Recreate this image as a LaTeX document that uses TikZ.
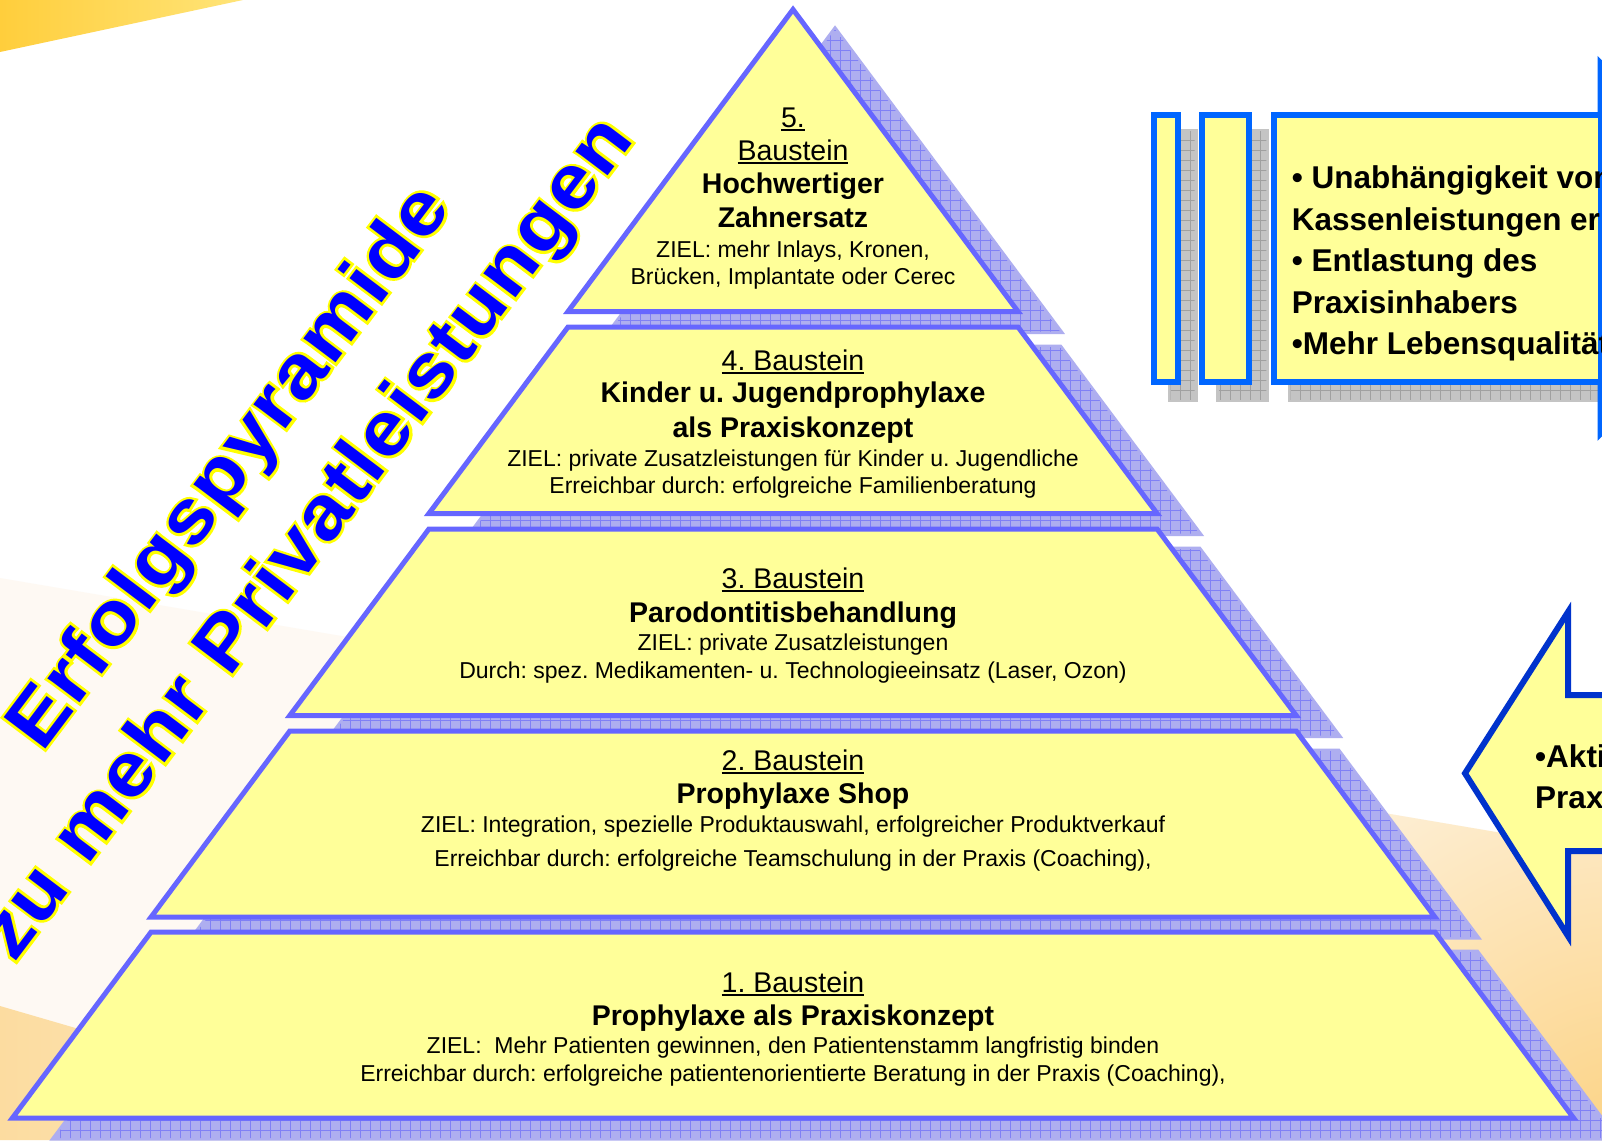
\documentclass[tikz,border=0pt]{standalone}
\usepackage{fontspec}
\usepackage{graphicx}
\setmainfont{Liberation Sans}
\usetikzlibrary{patterns.meta,calc}
\definecolor{tierfill}{RGB}{255,255,153}
\definecolor{tierline}{RGB}{102,102,255}
\definecolor{shadowfill}{RGB}{174,174,240}
\definecolor{shadowgrid}{RGB}{128,128,245}
\definecolor{greyfill}{RGB}{196,196,196}
\definecolor{greygrid}{RGB}{160,160,160}
\definecolor{arrowblue}{RGB}{0,102,255}
\definecolor{darkblue}{RGB}{0,51,204}
\definecolor{titleblue}{RGB}{0,0,255}
\definecolor{cornerA}{RGB}{255,206,60}
\definecolor{cornerB}{RGB}{255,228,120}
\definecolor{cream}{RGB}{254,249,243}
\definecolor{peach}{RGB}{252,210,130}
\definecolor{wedgeA}{RGB}{252,220,160}
\definecolor{wedgeB}{RGB}{253,234,200}
\newcommand\ulbox[1]{\setbox0\hbox{#1}\rlap{\rule[-4pt]{\wd0}{2pt}}\box0}
\newcommand\tierbig{\fontsize{28.5}{34}\selectfont}
\newcommand\tiersmall{\fontsize{23}{27}\selectfont}
\newcommand\boxfnt{\fontsize{31.5}{41}\selectfont\bfseries}
\newcommand\titlefnt{\fontsize{76}{90}\selectfont\bfseries}
% letter spreading for the title
\def\spreadit#1{\spreadB#1\relax}
\def\spreadB#1{#1\spreadC}
\def\spreadC#1{\ifx#1\relax\else\kern1.5pt#1\expandafter\spreadC\fi}
% title text: a stroked (yellow outline) copy below, a plain blue copy on top
\newcommand\titleoutline[1]{\special{pdf:code 2 Tr 1 1 0 RG 5 w}\scalebox{1.1}[1]{\spreadit{#1}}}
\newcommand\titleplain[1]{\scalebox{1.1}[1]{\spreadit{#1}}}
\begin{document}
\frenchspacing
\begin{tikzpicture}[x=1pt,y=-1pt,
  tierstyle/.style={draw=tierline,line width=5pt,fill=tierfill,line join=miter},
  shadowstyle/.style={fill=shadowfill,draw=shadowfill,line width=5pt,line join=miter,
    postaction={pattern={Hatch[angle=0,distance=10pt,line width=0.6pt]},pattern color=shadowgrid}},
  greyshadow/.style={fill=greyfill,draw=greyfill,line width=6pt,
    postaction={pattern={Hatch[angle=0,distance=10pt,line width=0.6pt]},pattern color=greygrid}},
  stripebox/.style={draw=arrowblue,line width=6pt,fill=tierfill,line join=miter},
  leftarrow/.style={draw=darkblue,line width=6pt,fill=tierfill,line join=miter},
  lbl/.style={anchor=base,inner sep=0pt,text=black},
  big/.style={lbl,font=\tierbig},
  bigb/.style={lbl,font=\tierbig\bfseries},
  small/.style={lbl,font=\tiersmall},
  boxtxt/.style={anchor=base west,inner sep=0pt,font=\boxfnt,text=black},
  titletxt/.style={anchor=base,inner sep=0pt,font=\titlefnt,rotate=53,text=titleblue}]
\useasboundingbox (0,0) rectangle (1602,1140);
\clip (0,0) rectangle (1602,1140);
% ---------- background ----------
\fill[white] (0,0) rectangle (1602,1140);
\fill[cream] (0,578) -- (1602,850) -- (1602,1140) -- (0,1140) -- cycle;
\begin{scope}
  \clip (0,578) -- (1602,850) -- (1602,1140) -- (0,1140) -- cycle;
  \shade[inner color=peach,outer color=cream] (1625,1155) circle (580pt);
\end{scope}
\shade[left color=wedgeA,right color=wedgeB] (0,1006) -- (460,1140) -- (0,1140) -- cycle;
\shade[left color=cornerA,right color=cornerB] (0,0) -- (243,0) -- (0,52) -- cycle;
% ---------- striped arrow (top right) ----------
\begin{scope}[shift={(17,17)}]
  \path[greyshadow] (1153.7,114.7) rectangle (1177.7,382);
  \path[greyshadow] (1202,114.7) rectangle (1249.3,382);
  \path[greyshadow] (1273.7,114.7) rectangle (1600.5,382);
\end{scope}
\path[stripebox] (1153.7,114.7) rectangle (1177.7,382);
\path[stripebox] (1202,114.7) rectangle (1249.3,382);
\path[stripebox] (1600.5,63) -- (1790,248.35) -- (1600.5,433.7) -- cycle;
\path[stripebox] (1273.7,114.7) rectangle (1600.5,382);
\node[boxtxt] (b1) at (1291.7,188.5) {• Unabhängigkeit von};
\node[boxtxt] (b2) at (1291.7,230) {Kassenleistungen er};
\node[boxtxt] (b3) at (1291.7,271.5) {• Entlastung des};
\node[boxtxt] (b4) at (1291.7,313) {Praxisinhabers};
\node[boxtxt] (b5) at (1291.7,354) {•Mehr Lebensqualität};
% ---------- left arrow (bottom right) ----------
\path[leftarrow] (1465,773.3) -- (1568,612) -- (1568,695) -- (1700,695) -- (1700,851)
  -- (1568,851) -- (1568,936) -- cycle;
\node[boxtxt] (a1) at (1535,767) {•Akti};
\node[boxtxt] (a2) at (1535,808) {Prax};
% ---------- pyramid shadows ----------
\begin{scope}[shift={(42,20)}]
  \path[shadowstyle] (793,9.5) -- (1018,311.5) -- (568,311.5) -- cycle;
  \path[shadowstyle] (568,327) -- (1018,327) -- (1157.1,513.5) -- (428.9,513.5) -- cycle;
  \path[shadowstyle] (428.9,529) -- (1157.1,529) -- (1296.2,715.5) -- (289.8,715.5) -- cycle;
  \path[shadowstyle] (289.8,731) -- (1296.2,731) -- (1434.9,917) -- (151.1,917) -- cycle;
  \path[shadowstyle] (151.1,932) -- (1434.9,932) -- (1573.6,1118) -- (12.4,1118) -- cycle;
\end{scope}
% ---------- pyramid tiers ----------
\path[tierstyle] (793,9.5) -- (1018,311.5) -- (568,311.5) -- cycle;
\path[tierstyle] (568,327) -- (1018,327) -- (1157.1,513.5) -- (428.9,513.5) -- cycle;
\path[tierstyle] (428.9,529) -- (1157.1,529) -- (1296.2,715.5) -- (289.8,715.5) -- cycle;
\path[tierstyle] (289.8,731) -- (1296.2,731) -- (1434.9,917) -- (151.1,917) -- cycle;
\path[tierstyle] (151.1,932) -- (1434.9,932) -- (1573.6,1118) -- (12.4,1118) -- cycle;
% ---------- tier 5 text ----------
\node[big] (t5a) at (793,127) {\ulbox{5.}};
\node[big] (t5b) at (793,160) {\ulbox{Baustein}};
\node[bigb] (t5c) at (793,193) {Hochwertiger};
\node[bigb] (t5d) at (793,227) {Zahnersatz};
\node[small] (t5e) at (793,257) {ZIEL: mehr Inlays, Kronen,};
\node[small] (t5f) at (793,284) {Brücken, Implantate oder Cerec};
% ---------- tier 4 text ----------
\node[big] (t4a) at (793,370) {\ulbox{4. Baustein}};
\node[bigb] (t4b) at (793,402) {Kinder u. Jugendprophylaxe};
\node[bigb] (t4c) at (793,437) {als Praxiskonzept};
\node[small] (t4d) at (793,466) {ZIEL: private Zusatzleistungen für Kinder u. Jugendliche};
\node[small] (t4e) at (793,493.5) {Erreichbar durch: erfolgreiche Familienberatung};
% ---------- tier 3 text ----------
\node[big] (t3a) at (793,588) {\ulbox{3. Baustein}};
\node[bigb] (t3b) at (793,622) {Parodontitisbehandlung};
\node[small] (t3c) at (793,650.5) {ZIEL: private Zusatzleistungen};
\node[small] (t3d) at (793,678) {Durch: spez. Medikamenten- u. Technologieeinsatz (Laser, Ozon)};
% ---------- tier 2 text ----------
\node[big] (t2a) at (793,770) {\ulbox{2. Baustein}};
\node[bigb] (t2b) at (793,803.5) {Prophylaxe Shop};
\node[small] (t2c) at (793,832) {ZIEL: Integration, spezielle Produktauswahl, erfolgreicher Produktverkauf};
\node[small] (t2d) at (793,866) {Erreichbar durch: erfolgreiche Teamschulung in der Praxis (Coaching),};
% ---------- tier 1 text ----------
\node[big] (t1a) at (793,992) {\ulbox{1. Baustein}};
\node[bigb] (t1b) at (793,1025) {Prophylaxe als Praxiskonzept};
\node[small] (t1c) at (793,1053) {ZIEL:\ \ Mehr Patienten gewinnen, den Patientenstamm langfristig binden};
\node[small] (t1d) at (793,1081) {Erreichbar durch: erfolgreiche patientenorientierte Beratung in der Praxis (Coaching),};
% ---------- rotated title ----------
\node[titletxt] (title1o) at (247.5,480.5) {\titleoutline{Erfolgspyramide}};
\node[titletxt] (title2o) at (325,551.5) {\titleoutline{zu\ mehr\ Privatleistungen}};
\node[titletxt] (title1) at (247.5,480.5) {\titleplain{Erfolgspyramide}};
\node[titletxt] (title2) at (325,551.5) {\titleplain{zu\ mehr\ Privatleistungen}};
\end{tikzpicture}
\end{document}
